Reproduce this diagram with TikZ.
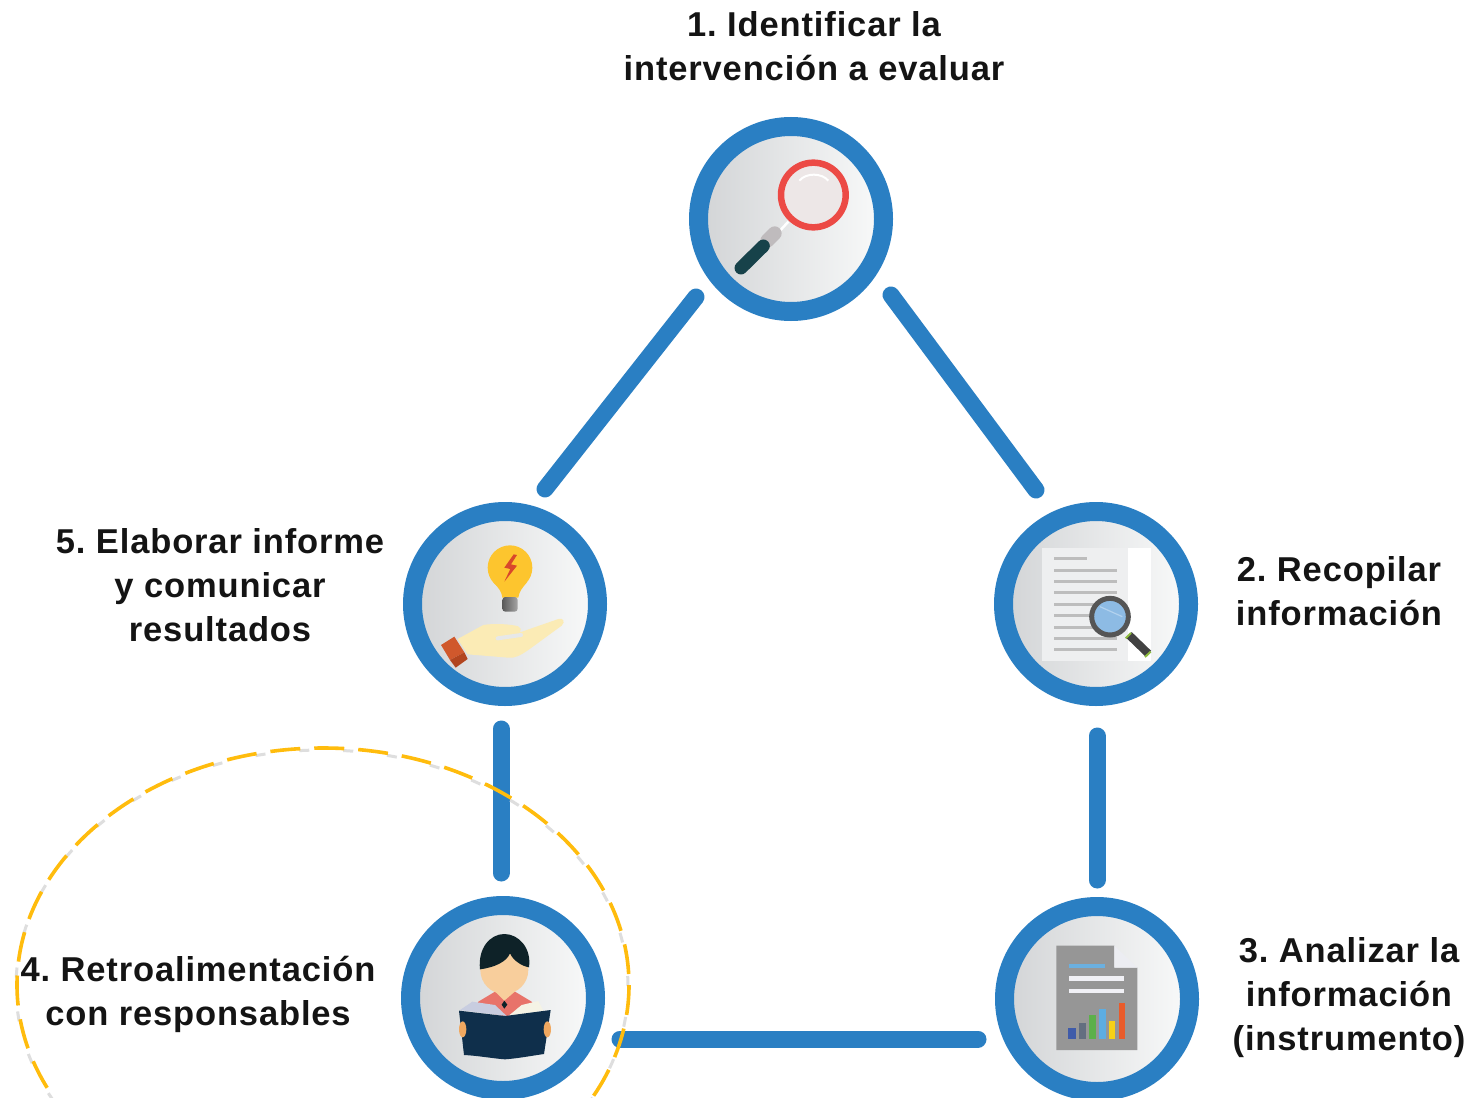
\documentclass[tikz,border=0pt]{standalone}
\usepackage{fontspec}
\setmainfont{Liberation Sans}[LetterSpace=2.5]
\AtBeginDocument{\frenchspacing}
\definecolor{ringblue}{HTML}{2A7FC3}
\definecolor{shadeL}{HTML}{D2D4D6}
\definecolor{shadeR}{HTML}{F9FAFA}
\definecolor{dashorange}{HTML}{FFBC0D}
\definecolor{txt}{HTML}{141414}
\definecolor{glassring}{HTML}{EC4A45}
\definecolor{glassfill}{HTML}{EDE7E7}
\definecolor{handleteal}{HTML}{17424A}
\definecolor{ferrule}{HTML}{BFBBBD}
\definecolor{bulb}{HTML}{FDC52E}
\definecolor{bolt}{HTML}{D9472B}
\definecolor{hand}{HTML}{FBEBB5}
\definecolor{slit}{HTML}{E7E8E9}
\definecolor{cuffA}{HTML}{D0582C}
\definecolor{cuffB}{HTML}{B2451F}
\definecolor{paper}{HTML}{EEEFF0}
\definecolor{paperline}{HTML}{BDBDBD}
\definecolor{lensdark}{HTML}{555555}
\definecolor{handledark}{HTML}{424242}
\definecolor{lensgreen}{HTML}{8DBB3E}
\definecolor{lensblue}{HTML}{8DBBE4}
\definecolor{lenslight}{HTML}{B2D2EE}
\definecolor{docgray}{HTML}{969696}
\definecolor{docfold}{HTML}{ECEDF2}
\definecolor{docblue}{HTML}{6BB0E0}
\definecolor{docwhite}{HTML}{F0F0F5}
\definecolor{barA}{HTML}{3F5BA9}
\definecolor{barB}{HTML}{636E80}
\definecolor{barC}{HTML}{5CB04A}
\definecolor{barD}{HTML}{5DADE2}
\definecolor{barE}{HTML}{F7D117}
\definecolor{barF}{HTML}{E95B2B}
\definecolor{skin}{HTML}{F8CE9C}
\definecolor{skinB}{HTML}{F0A860}
\definecolor{shirt}{HTML}{E8736A}
\definecolor{hair}{HTML}{0E2228}
\definecolor{pageL}{HTML}{C8CDE0}
\definecolor{pageR}{HTML}{F5F3E5}
\definecolor{cover}{HTML}{0F2F4B}
\tikzset{
  stepdisc/.style={circle,draw=ringblue,line width=19pt,minimum size=185pt,inner sep=0pt,left color=shadeL,right color=shadeR},
  linkline/.style={draw=ringblue,line width=17pt,line cap=round},
  steplabel/.style={text=txt,align=center,inner sep=0pt,font=\fontsize{34.5}{44}\bfseries\selectfont},
  icon/.style={x=0.33333pt,y=-0.33333pt}
}
\begin{document}
\begin{tikzpicture}[x=1pt,y=-1pt]
\clip (0,0) rectangle (1474,1097);
\fill[white] (0,0) rectangle (1474,1097);
% connector end points
\coordinate (a1) at (696,297); \coordinate (a5) at (545,489);
\coordinate (b1) at (891,295); \coordinate (b2) at (1036,490);
\coordinate (c5) at (501,729); \coordinate (c4) at (501,873);
\coordinate (d2) at (1097,736); \coordinate (d3) at (1097,880);
\coordinate (e4) at (620,1039); \coordinate (e3) at (978,1039);
\draw[linkline] (a1) -- (a5);
\draw[linkline] (b1) -- (b2);
\draw[linkline] (c5) -- (c4);
\draw[linkline] (d2) -- (d3);
\draw[linkline] (e4) -- (e3);
% discs
\node[stepdisc] (n1) at (791,219) {};
\node[stepdisc] (n2) at (1096,604) {};
\node[stepdisc] (n3) at (1097,999) {};
\node[stepdisc] (n4) at (503,998) {};
\node[stepdisc] (n5) at (505,604) {};
% icon 1: magnifier
\begin{scope}[shift={(680,110)},icon]
  \draw[line width=2.5pt,color=white] (300,362) -- (325,335);
  \draw[line width=14pt,line cap=round,color=ferrule] (262,392) -- (284,370);
  \draw[line width=13pt,line cap=round,color=handleteal] (183,474) -- (250,408);
  \draw[line width=6.5pt,color=glassring,fill=glassfill] (400,255) circle [radius=97];
  \draw[line width=2pt,white] (358,212) .. controls (378,188) and (425,188) .. (445,212);
\end{scope}
% icon 5: bulb and hand
\begin{scope}[shift={(395,495)},icon]
  \fill[bulb] (345,218) circle [radius=67];
  \fill[bulb] (295,262) .. controls (312,280) and (320,290) .. (322,308) -- (370,308) .. controls (372,290) and (382,278) .. (396,262) -- cycle;
  \shade[left color=black!65,right color=black!35,rounded corners=3pt] (322,306) -- (368,306) -- (368,350) -- (322,350) -- cycle;
  \fill[bolt] (356,178) -- (328,218) -- (346,222) -- (328,260) -- (366,212) -- (348,208) -- (366,180) -- cycle;
  \fill[hand] (188,432) -- (265,390) .. controls (300,384) and (350,388) .. (370,394) .. controls (378,398) and (380,405) .. (375,412) -- (490,372) .. controls (505,368) and (512,380) .. (500,392) -- (400,465) .. controls (375,482) and (360,490) .. (340,488) -- (218,478) -- cycle;
  \draw[line width=4pt,line cap=round,color=slit] (308,430) -- (378,420);
  \fill[cuffA] (138,450) -- (178,425) -- (208,472) -- (165,495) -- cycle;
  \fill[cuffB] (165,495) -- (208,472) -- (218,492) -- (182,518) -- cycle;
\end{scope}
% icon 2: document with magnifier
\begin{scope}[shift={(985,495)},icon]
  \fill[paper] (172,158) rectangle (430,497);
  \fill[white] (430,158) rectangle (497,497);
  \draw[line width=3pt,color=paperline] (207,191) -- (307,191);
  \foreach \yy in {225,259,293,327,362,396,430,464}
    \draw[line width=3pt,color=paperline] (207,\yy) -- (395,\yy);
  \draw[line width=8pt,color=handledark] (432,420) -- (490,476);
  \draw[line width=2pt,color=lensgreen] (422,430) -- (438,414);
  \draw[line width=2pt,color=lensgreen] (480,486) -- (497,470);
  \draw[line width=5pt,color=lensdark,fill=lensblue] (375,365) circle [radius=55];
  \draw[line width=1.2pt,color=lenslight] (345,335) -- (412,365);
\end{scope}
% icon 3: report
\begin{scope}[shift={(985,890)},icon]
  \fill[docgray] (214,167) -- (388,167) -- (388,233) -- (457,233) -- (457,480) -- (214,480) -- cycle;
  \fill[docfold] (388,167) -- (457,233) -- (388,233) -- cycle;
  \fill[docblue] (252,221) rectangle (360,233);
  \fill[docwhite] (252,259) rectangle (418,272);
  \fill[docwhite] (252,297) rectangle (418,310);
  \fill[barA] (250,415) rectangle (272,447);
  \fill[barB] (281,400) rectangle (302,447);
  \fill[barC] (311,375) rectangle (332,447);
  \fill[barD] (341,357) rectangle (362,447);
  \fill[barE] (371,393) rectangle (391,447);
  \fill[barF] (401,340) rectangle (419,447);
\end{scope}
% icon 4: reader
\begin{scope}[shift={(395,890)},icon]
  \fill[shirt] (250,335) -- (300,305) -- (360,305) -- (410,335) -- (425,360) -- (335,380) -- (240,360) -- cycle;
  \fill[skin] (328,240) circle [radius=72];
  \fill[skin] (302,295) -- (358,295) -- (358,306) -- (328,332) -- (302,306) -- cycle;
  \fill[hair] (255,238) .. controls (248,175) and (285,132) .. (328,132) .. controls (372,132) and (410,175) .. (402,232) .. controls (380,228) and (355,212) .. (345,190) .. controls (335,215) and (300,232) .. (255,238) -- cycle;
  \fill[hair] (328,332) -- (337,344) -- (328,356) -- (320,344) -- cycle;
  \fill[pageL] (232,335) -- (300,345) -- (335,378) -- (195,360) -- cycle;
  \fill[pageR] (340,378) -- (380,345) -- (430,333) -- (445,362) -- cycle;
  \fill[cover] (192,362) -- (330,378) -- (467,360) -- (447,492) .. controls (405,498) and (370,505) .. (330,508) .. controls (290,505) and (250,497) .. (207,495) -- cycle;
  \fill[skinB] (203,418) ellipse [x radius=11, y radius=24];
  \fill[skinB] (457,418) ellipse [x radius=11, y radius=24];
\end{scope}
% labels
\node[steplabel] (t1) at (814,46) {1. Identificar la\\intervención a evaluar};
\node[steplabel] (t2) at (1339,591) {2. Recopilar\\información};
\node[steplabel] (t3) at (1349,998) {3. Analizar la\\información\\(instrumento)};
\node[steplabel] (t4) at (198,994) {4. Retroalimentación\\con responsables};
\node[steplabel] (t5) at (220,585) {5. Elaborar informe\\y comunicar\\resultados};
% dashed ellipse
\coordinate (ell) at (323,985);
\coordinate (ellshadow) at (322,987);
\draw[line width=3pt,color=black!13,dash pattern=on 10pt off 34pt,dash phase=14pt] (ellshadow) ellipse [x radius=306, y radius=237];
\draw[line width=3.6pt,color=dashorange,dash pattern=on 30pt off 14pt] (ell) ellipse [x radius=306, y radius=237];
\end{tikzpicture}
\end{document}
